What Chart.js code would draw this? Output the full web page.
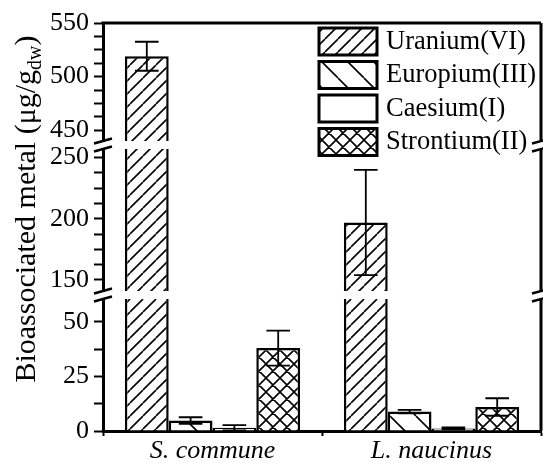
<!DOCTYPE html>
<html>
<head>
<meta charset="utf-8">
<script src="https://cdn.jsdelivr.net/npm/chart.js@4"></script>
<style>
  html, body { margin: 0; padding: 0; background: #fff; }
  #wrap { width: 543px; height: 462px; }
</style>
</head>
<body>
<div id="wrap"><canvas id="myChart"></canvas></div>
<script>
var species = ["S. commune", "L. naucinus"];
var metals = ["Uranium(VI)", "Europium(III)", "Caesium(I)", "Strontium(II)"];
var uranium = [519, 197];
var uraniumErr = [13.5, 43];
var europium = [4.8, 8.9];
var europiumErr = [1.5, 0.8];
var caesium = [1.5, 1.2];
var caesiumErr = [1.2, 0.4];
var strontium = [38, 11];
var strontiumErr = [8, 4];
// broken y axis: bottom, middle, top piece
var segMin = [0, 141, 440];
var segMax = [60.5, 257, 550];
var labelStep = [25, 50, 50];
var minorStep = 12.5;

var FONT = "'Liberation Serif', 'Times New Roman', serif";
Chart.defaults.font.family = FONT;
Chart.defaults.color = "#000";

function makePattern(kind, s) {
  var c = document.createElement("canvas");
  c.width = s; c.height = s;
  var g = c.getContext("2d");
  g.fillStyle = "#fff";
  g.fillRect(0, 0, s, s);
  g.strokeStyle = "#000";
  g.lineWidth = 1.6;
  g.beginPath();
  for (var k = -s; k <= s; k += s) {
    if (kind == "fwd" || kind == "cross") { g.moveTo(k, s); g.lineTo(k + s, 0); }
    if (kind == "back" || kind == "cross") { g.moveTo(k, 0); g.lineTo(k + s, s); }
  }
  g.stroke();
  return g.createPattern(c, "repeat");
}

var series = [uranium, europium, caesium, strontium];
var errors = [uraniumErr, europiumErr, caesiumErr, strontiumErr];
var fills = [makePattern("fwd", 13), makePattern("back", 26), "#fff", makePattern("cross", 14)];
var axisIds = ["y0", "y1", "y2"];

var datasets = [];
axisIds.forEach(function (id) {
  series.forEach(function (vals, i) {
    datasets.push({
      label: metals[i],
      data: vals,
      err: errors[i],
      yAxisID: id,
      stack: "s" + i,
      backgroundColor: fills[i],
      borderColor: "#000",
      borderWidth: 2.5,
      borderSkipped: "start",
      categoryPercentage: 0.8,
      barPercentage: 1.0
    });
  });
});

function segAxis(n, weight) {
  return {
    type: "linear",
    position: "left",
    stack: "v",
    stackWeight: weight,
    min: segMin[n],
    max: segMax[n],
    bounds: "data",
    stacked: false,
    grid: { drawOnChartArea: false, drawTicks: true, tickLength: 9, tickWidth: 2, tickColor: "#000" },
    border: { display: true, color: "#000", width: 3 },
    ticks: {
      autoSkip: false,
      padding: 5,
      color: "#000",
      font: { size: 26 },
      callback: function (v) { return v % labelStep[n] === 0 ? v : ""; }
    },
    afterBuildTicks: function (s) {
      var t = [];
      for (var v = Math.ceil(segMin[n] / minorStep) * minorStep; v <= segMax[n]; v += minorStep) t.push({ value: v });
      s.ticks = t;
    },
    afterFit: function (s) { s.width = 56; }
  };
}
function gapAxis() {
  return { type: "linear", position: "left", stack: "v", stackWeight: 8, display: false, min: 0, max: 1 };
}

var scales = {
  x: {
    type: "category",
    offset: true,
    grid: { offset: true, drawOnChartArea: false, tickLength: 5, tickWidth: 2, tickColor: "#000" },
    border: { color: "#000", width: 3 },
    ticks: { color: "#000", padding: 2, font: { size: 26, style: "italic", lineHeight: 1 } },
    afterFit: function (s) { s.height = 31; }
  },
  y0: segAxis(0, 132),
  g0: gapAxis(),
  y1: segAxis(1, 142),
  g1: gapAxis(),
  y2: segAxis(2, 118)
};

// clip every copy of a series to its own piece of the axis, then add error bars
var segmentClip = {
  id: "segmentClip",
  beforeDatasetDraw: function (chart, args) {
    var ds = chart.data.datasets[args.index];
    var ys = chart.scales[ds.yAxisID];
    var ctx = chart.ctx;
    ctx.save();
    ctx.beginPath();
    ctx.rect(chart.chartArea.left, ys.top, chart.chartArea.width, ys.height);
    ctx.clip();
  },
  afterDatasetDraw: function (chart, args) {
    var ds = chart.data.datasets[args.index];
    var ys = chart.scales[ds.yAxisID];
    var ctx = chart.ctx;
    var meta = chart.getDatasetMeta(args.index);
    ctx.strokeStyle = "#000";
    ctx.lineWidth = 1.8;
    meta.data.forEach(function (bar, j) {
      var v = ds.data[j], e = ds.err[j];
      var yTop = ys.getPixelForValue(v + e);
      var yBot = ys.getPixelForValue(v - e);
      var half = bar.width * 0.27;
      ctx.beginPath();
      ctx.moveTo(bar.x, yTop); ctx.lineTo(bar.x, yBot);
      ctx.moveTo(bar.x - half, yTop); ctx.lineTo(bar.x + half, yTop);
      ctx.moveTo(bar.x - half, yBot); ctx.lineTo(bar.x + half, yBot);
      ctx.stroke();
    });
    ctx.restore();
  }
};

var frame = {
  id: "frame",
  afterDraw: function (chart) {
    var ctx = chart.ctx, a = chart.chartArea;
    ctx.save();
    ctx.strokeStyle = "#000";
    ctx.lineWidth = 3;
    ctx.beginPath();
    ctx.moveTo(a.left - 1.5, a.top);
    ctx.lineTo(a.right, a.top);
    ["y0", "y1", "y2"].forEach(function (id) {
      var s = chart.scales[id];
      ctx.moveTo(a.right, s.top);
      ctx.lineTo(a.right, s.bottom);
    });
    ctx.stroke();
    // break marks
    ctx.lineWidth = 2.5;
    ctx.beginPath();
    ["g0", "g1"].forEach(function (id) {
      var g = chart.scales[id];
      [a.left, a.right].forEach(function (x) {
        [g.top, g.bottom].forEach(function (y) {
          ctx.moveTo(x - 9, y + 2.5);
          ctx.lineTo(x + 9, y - 2.5);
        });
      });
    });
    ctx.stroke();

    // legend
    var x0 = a.right - 222, y0 = a.top + 5;
    ctx.font = "26.5px " + FONT;
    ctx.textBaseline = "middle";
    ctx.textAlign = "left";
    ctx.lineWidth = 3;
    for (var i = 0; i < 4; i++) {
      var ds = chart.data.datasets[i];
      var y = y0 + i * 33.5;
      ctx.fillStyle = ds.backgroundColor;
      ctx.fillRect(x0, y, 58, 27);
      ctx.strokeRect(x0, y, 58, 27);
      ctx.fillStyle = "#000";
      ctx.fillText(ds.label, x0 + 67, y + 14);
    }

    // y title with subscript
    var main = "Bioassociated metal (\u03bcg/g", sub = "dw", tail = ")";
    ctx.font = "30px " + FONT;
    var w1 = ctx.measureText(main).width, w3 = ctx.measureText(tail).width;
    ctx.font = "20px " + FONT;
    var w2 = ctx.measureText(sub).width;
    var total = w1 + w2 + w3;
    var cy = (a.top + a.bottom) / 2 - 18;
    ctx.translate(35, cy);
    ctx.rotate(-Math.PI / 2);
    ctx.textBaseline = "alphabetic";
    ctx.font = "30px " + FONT;
    ctx.fillText(main, -total / 2, 0);
    ctx.font = "20px " + FONT;
    ctx.fillText(sub, -total / 2 + w1, 6);
    ctx.font = "30px " + FONT;
    ctx.fillText(tail, -total / 2 + w1 + w2, 0);
    ctx.restore();
  }
};

new Chart(document.getElementById("myChart"), {
  type: "bar",
  data: { labels: species, datasets: datasets },
  options: {
    responsive: true,
    maintainAspectRatio: false,
    animation: false,
    layout: { padding: { left: 47, top: 23, right: 2, bottom: 0 } },
    plugins: { legend: { display: false }, tooltip: { enabled: false } },
    scales: scales
  },
  plugins: [segmentClip, frame]
});
</script>
</body>
</html>
